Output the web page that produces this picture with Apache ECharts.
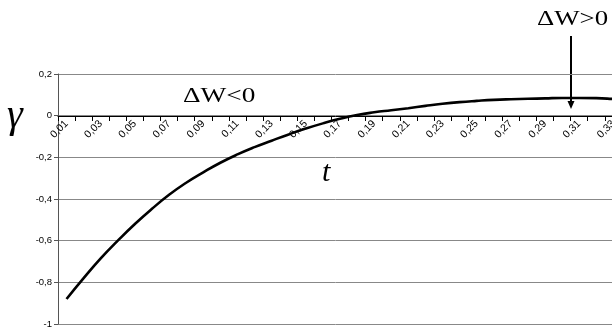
<!DOCTYPE html>
<html>
<head>
<meta charset="utf-8">
<script src="https://cdn.jsdelivr.net/npm/echarts@6/dist/echarts.min.js"></script>
<style>html,body{margin:0;padding:0;background:#fff;}#c{width:612px;height:329px;}</style>
</head>
<body>
<div id="c"></div>
<script>
var tValues = [0.01,0.02,0.03,0.04,0.05,0.06,0.07,0.08,0.09,0.10,0.11,0.12,0.13,0.14,0.15,0.16,0.17,0.18,0.19,0.20,0.21,0.22,0.23,0.24,0.25,0.26,0.27,0.28,0.29,0.30,0.31,0.32,0.33,0.34];
var gammaValues = [-0.88,-0.78,-0.685,-0.6,-0.52,-0.447,-0.38,-0.322,-0.272,-0.226,-0.186,-0.151,-0.12,-0.09,-0.062,-0.037,-0.015,0.003,0.016,0.026,0.036,0.047,0.057,0.065,0.071,0.076,0.079,0.081,0.083,0.085,0.085,0.084,0.080,0.075];
var yTicks = [-1,-0.8,-0.6,-0.4,-0.2,0,0.2];

var categories = tValues.map(function(v){ return v.toFixed(2).replace('.', ','); });
var chart = echarts.init(document.getElementById('c'), null, {renderer:'canvas'});
var serif = '"Liberation Serif","Times New Roman",serif';
chart.setOption({
  animation:false,
  backgroundColor:'#fff',
  grid:{left:58, top:74, bottom:5, right:-27, containLabel:false, outerBoundsMode:'none'},
  xAxis:{
    type:'category', data:categories, boundaryGap:true, position:'bottom', offset:-208,
    axisLine:{onZero:false, lineStyle:{color:'#000', width:1}},
    axisTick:{show:true, interval:0, alignWithLabel:false, inside:false, length:5, lineStyle:{color:'#000'}},
    axisLabel:{interval:1, rotate:45, fontSize:10.5, fontFamily:'"Liberation Sans",Arial,sans-serif', color:'#000', margin:6},
    splitLine:{show:false}
  },
  yAxis:{
    type:'value', min:-1, max:0.2, interval:0.2,
    axisLine:{show:true, lineStyle:{color:'#555', width:1}},
    axisTick:{show:true, length:4, lineStyle:{color:'#555'}},
    axisLabel:{fontSize:9.5, fontFamily:'"Liberation Sans",Arial,sans-serif', color:'#000', margin:6,
      formatter:function(v){ var r=Math.round(v*10)/10; return r===0?'0':String(r).replace('.', ','); }},
    splitLine:{show:true, lineStyle:{color:'#888', width:1}}
  },
  series:[{
    type:'line', data:gammaValues, smooth:true, showSymbol:false, symbol:'none',
    lineStyle:{color:'#000', width:2.6}
  }],
  graphic:[
    {type:'text', x:7, y:96, style:{text:'γ', font:'italic 40px '+serif, fill:'#000'}},
    {type:'text', x:183, y:86, scaleX:1.3, style:{text:'ΔW<0', font:'21px '+serif, fill:'#000'}},
    {type:'text', x:537, y:8, scaleX:1.22, style:{text:'ΔW>0', font:'22px '+serif, fill:'#000'}},
    {type:'text', x:322, y:158, style:{text:'t', font:'italic 30px '+serif, fill:'#000'}},
    {type:'line', shape:{x1:571, y1:36, x2:571, y2:103}, style:{stroke:'#000', lineWidth:2}},
    {type:'polygon', shape:{points:[[567.5,101],[574.5,101],[571,109]]}, style:{fill:'#000'}}
  ]
});
</script>
</body>
</html>
